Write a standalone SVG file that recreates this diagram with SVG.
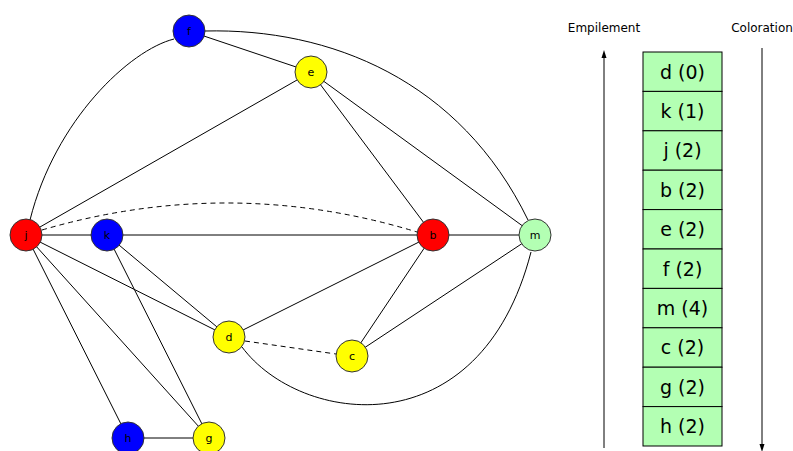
<svg xmlns="http://www.w3.org/2000/svg" width="793" height="451" viewBox="0 0 793 451">
<defs>
<marker id="ah" markerWidth="8" markerHeight="8" refX="4" refY="4" orient="auto" markerUnits="userSpaceOnUse">
<path d="M0,1.5 L8,4 L0,6.5 z" fill="#000"/>
</marker>
<style>
.e{stroke:#000;stroke-width:1;fill:none}
.d{stroke:#000;stroke-width:1;fill:none;stroke-dasharray:5,4}
.n{stroke:#333;stroke-width:1}
.nl{font-family:"DejaVu Sans","Liberation Sans",sans-serif;font-size:11px;text-anchor:middle;fill:#000}
.r{fill:#b3ffb3;stroke:#000;stroke-width:1}
.rl{font-family:"DejaVu Sans","Liberation Sans",sans-serif;font-size:19px;text-anchor:middle;fill:#000}
.hl{font-family:"DejaVu Sans","Liberation Sans",sans-serif;font-size:12px;text-anchor:middle;fill:#000}
</style>
</defs>
<rect width="793" height="451" fill="#fff"/>
<g id="connectors">
<path class="e" d="M30,220 C55,120 130,50 174,39"/>
<path class="e" d="M205,31 C330,28 460,80 528,220"/>
<path class="d" d="M42,230 Q230,175 417,232"/>
<path class="e" d="M242,347 C300,425 480,450 531,252"/>
<line class="e" x1="26" y1="235" x2="311" y2="72"/>
<line class="e" x1="26" y1="235" x2="107" y2="235"/>
<line class="e" x1="26" y1="235" x2="229" y2="337"/>
<line class="e" x1="26" y1="235" x2="209" y2="438"/>
<line class="e" x1="26" y1="235" x2="128" y2="438"/>
<line class="e" x1="189" y1="31" x2="311" y2="72"/>
<line class="e" x1="311" y1="72" x2="433" y2="235"/>
<line class="e" x1="311" y1="72" x2="535" y2="235"/>
<line class="e" x1="107" y1="235" x2="433" y2="235"/>
<line class="e" x1="107" y1="235" x2="229" y2="337"/>
<line class="e" x1="107" y1="235" x2="209" y2="438"/>
<line class="e" x1="433" y1="235" x2="535" y2="235"/>
<line class="e" x1="433" y1="235" x2="229" y2="337"/>
<line class="e" x1="433" y1="235" x2="352" y2="356"/>
<line class="e" x1="535" y1="235" x2="352" y2="356"/>
<line class="d" x1="245" y1="341" x2="336" y2="354"/>
<line class="e" x1="128" y1="438" x2="209" y2="438"/>
<line class="e" x1="604" y1="448" x2="604" y2="54" marker-end="url(#ah)"/>
<line class="e" x1="762" y1="48" x2="762" y2="448" marker-end="url(#ah)"/>
</g>
<g id="node-f"><circle class="n" cx="189" cy="31" r="16" fill="#0000ff"/><text class="nl" x="189" y="35">f</text></g>
<g id="node-e"><circle class="n" cx="311" cy="72" r="16" fill="#ffff00"/><text class="nl" x="311" y="76">e</text></g>
<g id="node-j"><circle class="n" cx="26" cy="235" r="16" fill="#ff0000"/><text class="nl" x="26" y="239">j</text></g>
<g id="node-k"><circle class="n" cx="107" cy="235" r="16" fill="#0000ff"/><text class="nl" x="107" y="239">k</text></g>
<g id="node-b"><circle class="n" cx="433" cy="235" r="16" fill="#ff0000"/><text class="nl" x="433" y="239">b</text></g>
<g id="node-m"><circle class="n" cx="535" cy="235" r="16" fill="#b3ffb3"/><text class="nl" x="535" y="239">m</text></g>
<g id="node-d"><circle class="n" cx="229" cy="337" r="16" fill="#ffff00"/><text class="nl" x="229" y="341">d</text></g>
<g id="node-c"><circle class="n" cx="352" cy="356" r="16" fill="#ffff00"/><text class="nl" x="352" y="360">c</text></g>
<g id="node-h"><circle class="n" cx="128" cy="438" r="16" fill="#0000ff"/><text class="nl" x="128" y="442">h</text></g>
<g id="node-g"><circle class="n" cx="209" cy="438" r="16" fill="#ffff00"/><text class="nl" x="209" y="442">g</text></g>
<g id="labels">
<text class="hl" x="604" y="32">Empilement</text>
<text class="hl" x="762" y="32">Coloration</text>
</g>
<g id="stack">
<rect class="r" x="643" y="52" width="79" height="39.4"/><text class="rl" x="682.5" y="78.5">d (0)</text>
<rect class="r" x="643" y="91.4" width="79" height="39.4"/><text class="rl" x="682.5" y="117.9">k (1)</text>
<rect class="r" x="643" y="130.8" width="79" height="39.4"/><text class="rl" x="682.5" y="157.3">j (2)</text>
<rect class="r" x="643" y="170.2" width="79" height="39.4"/><text class="rl" x="682.5" y="196.7">b (2)</text>
<rect class="r" x="643" y="209.6" width="79" height="39.4"/><text class="rl" x="682.5" y="236.1">e (2)</text>
<rect class="r" x="643" y="249" width="79" height="39.4"/><text class="rl" x="682.5" y="275.5">f (2)</text>
<rect class="r" x="643" y="288.4" width="79" height="39.4"/><text class="rl" x="682.5" y="314.9">m (4)</text>
<rect class="r" x="643" y="327.8" width="79" height="39.4"/><text class="rl" x="682.5" y="354.3">c (2)</text>
<rect class="r" x="643" y="367.2" width="79" height="39.4"/><text class="rl" x="682.5" y="393.7">g (2)</text>
<rect class="r" x="643" y="406.6" width="79" height="39.4"/><text class="rl" x="682.5" y="433.1">h (2)</text>
</g>
</svg>
